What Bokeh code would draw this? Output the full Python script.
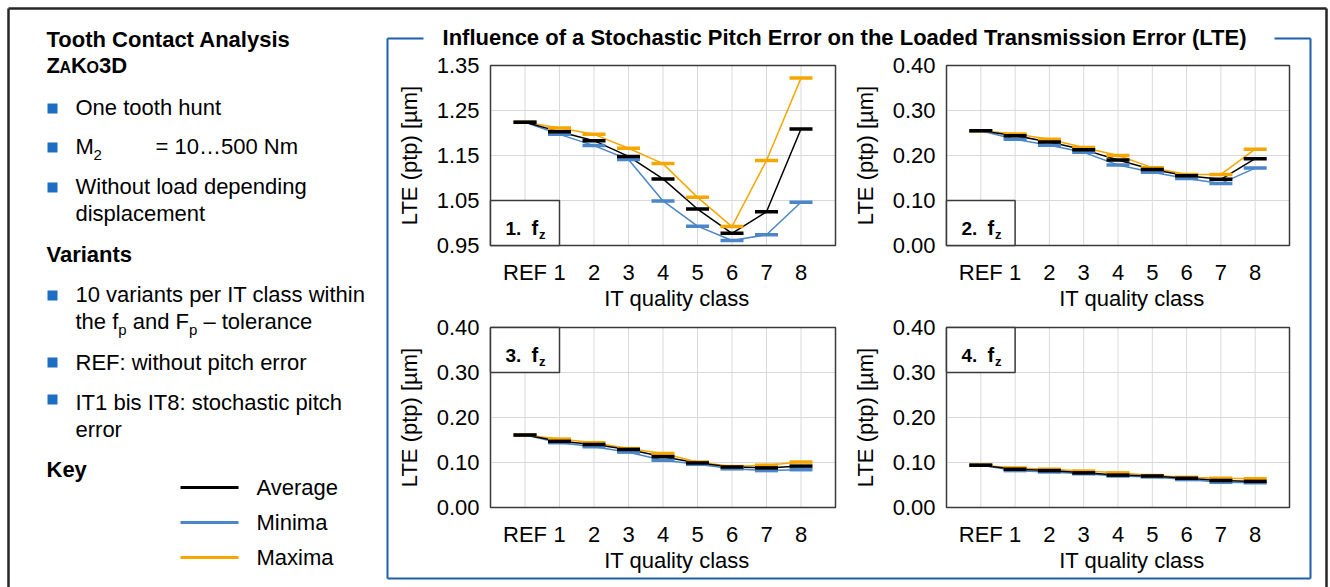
import numpy as np
from bokeh.plotting import figure
from bokeh.models import Range1d, LinearAxis, FixedTicker, NumeralTickFormatter
from bokeh.core.properties import value
from bokeh.embed import file_html
from bokeh.resources import INLINE

# ---------------- data ----------------
categories = ["REF", "1", "2", "3", "4", "5", "6", "7", "8"]
y_ticks_1 = [0.95, 1.05, 1.15, 1.25, 1.35]
y_ticks_small = [0.00, 0.10, 0.20, 0.30, 0.40]

avg_1 = [1.224, 1.203, 1.183, 1.148, 1.098, 1.031, 0.977, 1.025, 1.209]
min_1 = [1.224, 1.197, 1.172, 1.141, 1.049, 0.993, 0.961, 0.974, 1.046]
max_1 = [1.224, 1.211, 1.197, 1.166, 1.132, 1.057, 0.992, 1.139, 1.322]

avg_2 = [0.255, 0.244, 0.230, 0.213, 0.190, 0.169, 0.155, 0.147, 0.193]
min_2 = [0.255, 0.236, 0.223, 0.207, 0.179, 0.163, 0.149, 0.138, 0.172]
max_2 = [0.255, 0.248, 0.236, 0.218, 0.200, 0.173, 0.158, 0.158, 0.214]

avg_3 = [0.161, 0.147, 0.140, 0.129, 0.113, 0.099, 0.090, 0.088, 0.092]
min_3 = [0.161, 0.144, 0.135, 0.123, 0.105, 0.096, 0.086, 0.082, 0.084]
max_3 = [0.161, 0.152, 0.144, 0.131, 0.120, 0.101, 0.091, 0.094, 0.101]

avg_4 = [0.094, 0.085, 0.082, 0.077, 0.072, 0.070, 0.065, 0.060, 0.058]
min_4 = [0.094, 0.082, 0.079, 0.075, 0.070, 0.068, 0.062, 0.056, 0.055]
max_4 = [0.094, 0.088, 0.085, 0.081, 0.077, 0.071, 0.067, 0.065, 0.064]

series_names = ["Average", "Minima", "Maxima"]

# ---------------- styles ----------------
W, H = 1330, 587
FONT = "Liberation Sans"
C_AVG = "#000000"
C_MIN = "#4a86c8"
C_MAX = "#f5a700"
C_GRID = "#d9d9d9"
C_FRAME = "#3a3a3a"
C_BULLET = "#1b6ec2"
C_BLUE = "#1f5ea8"
C_OUTER = "#262626"

p = figure(width=W, height=H, x_range=Range1d(0, W), y_range=Range1d(H, 0),
           x_axis_type=None, y_axis_type=None, output_backend="svg",
           toolbar_location=None, min_border=0, outline_line_color=None)
p.background_fill_color = "white"
p.border_fill_color = "white"


def txt(x, y, s, size=22, bold=False, align="left", angle=0.0, color="#000000"):
    """y is the intended text baseline (screen pixels)."""
    p.text(x=[x], y=[y - 0.36 * size], text=[s], text_font=value(FONT),
           text_font_size=f"{size}px",
           text_font_style="bold" if bold else "normal",
           text_align=align, text_baseline="alphabetic", angle=angle,
           text_color=color)


# ---------------- outer frames ----------------
p.segment(x0=[8, 8, 1326], y0=[8, 8, 8], x1=[1326, 8, 1326], y1=[8, 600, 600],
          line_color=C_OUTER, line_width=2.5)
p.segment(x0=[387, 1274, 387, 387, 1310], y0=[38, 38, 38, 578, 38],
          x1=[423, 1310, 387, 1310, 1310], y1=[38, 38, 578, 578, 578],
          line_color=C_BLUE, line_width=2)
txt(844, 45, "Influence of a Stochastic Pitch Error on the Loaded Transmission Error (LTE)",
    size=22, bold=True, align="center")

# ---------------- left text block ----------------
txt(46, 47, "Tooth Contact Analysis", bold=True)
# small caps "ZaKo3D"
txt(46, 73, "Z", bold=True)
txt(59, 73, "A", size=16, bold=True)
txt(70.5, 73, "K", bold=True)
txt(86, 73, "O", size=16, bold=True)
txt(98.5, 73, "3D", bold=True)

bullet_y = [108, 147, 187, 295, 362, 399]
p.rect(x=[52] * len(bullet_y), y=bullet_y, width=10, height=10,
       fill_color=C_BULLET, line_color=None)

txt(75, 115, "One tooth hunt")
txt(75, 154, "M")
txt(93, 160, "2", size=15)
txt(155, 154, "= 10…500 Nm")
txt(75, 194, "Without load depending")
txt(75, 221, "displacement")
txt(46, 262, "Variants", bold=True)
txt(75, 302, "10 variants per IT class within")
txt(75, 329, "the f")
txt(117.8, 334, "p", size=15)
txt(132.2, 329, "and F")
txt(188.5, 334, "p", size=15)
txt(202.9, 329, "– tolerance")
txt(75, 370, "REF: without pitch error")
txt(75, 410, "IT1 bis IT8: stochastic pitch")
txt(75, 437, "error")
txt(46, 477, "Key", bold=True)

leg_y = [487, 522, 557]
p.segment(x0=[180] * 3, x1=[238] * 3, y0=leg_y, y1=leg_y,
          line_color=[C_AVG, C_MIN, C_MAX], line_width=3)
for yy, name in zip(leg_y, series_names):
    txt(256, yy + 8, name)

# ---------------- panels ----------------
panels = [
    ("1", (490, 835), (65, 245), (0.95, 1.35), y_ticks_1, avg_1, min_1, max_1, "bottom"),
    ("2", (946, 1289), (65, 245), (0.00, 0.40), y_ticks_small, avg_2, min_2, max_2, "bottom"),
    ("3", (490, 835), (327, 507), (0.00, 0.40), y_ticks_small, avg_3, min_3, max_3, "top"),
    ("4", (946, 1289), (327, 507), (0.00, 0.40), y_ticks_small, avg_4, min_4, max_4, "top"),
]

xpos = np.arange(len(categories))
xlo, xhi = -1, len(categories)

for num, (px0, px1), (py0, py1), (ylo, yhi), yt, av, mn, mx, boxpos in panels:
    kx = (xhi - xlo) / (px1 - px0)
    ky = (yhi - ylo) / (py1 - py0)
    xn, yn = f"x{num}", f"y{num}"
    p.extra_x_ranges[xn] = Range1d(xlo - px0 * kx, xhi + (W - px1) * kx)
    p.extra_y_ranges[yn] = Range1d(ylo - (H - py1) * ky, yhi + py0 * ky)
    kw = dict(x_range_name=xn, y_range_name=yn)

    # grid
    p.segment(x0=xpos, x1=xpos, y0=[ylo] * len(xpos), y1=[yhi] * len(xpos),
              line_color=C_GRID, line_width=1, **kw)
    inner = yt[1:-1]
    p.segment(x0=[xlo] * len(inner), x1=[xhi] * len(inner), y0=inner, y1=inner,
              line_color=C_GRID, line_width=1, **kw)
    # frame
    p.quad(left=[xlo], right=[xhi], bottom=[ylo], top=[yhi], fill_color=None,
           line_color=C_FRAME, line_width=1.5, **kw)

    # series
    for ser, col in ((mn, C_MIN), (mx, C_MAX), (av, C_AVG)):
        p.line(xpos, ser, line_color=col, line_width=1.5, **kw)
    for ser, col in ((mn, C_MIN), (mx, C_MAX), (av, C_AVG)):
        p.scatter(xpos, ser, marker="dash", size=23, line_color=col,
                  line_width=3.5, **kw)

    # label box
    step = yt[1] - yt[0]
    if boxpos == "bottom":
        bb, bt = ylo, ylo + step
        top_px = py1 - 45
    else:
        bb, bt = yhi - step, yhi
        top_px = py0
    p.quad(left=[xlo], right=[xlo + 2], bottom=[bb], top=[bt], fill_color="white",
           line_color=C_FRAME, line_width=1.5, **kw)
    base = top_px + 35
    txt(px0 + 15, base, f"{num}.", size=19, bold=True)
    txt(px0 + 41, base, "f", size=20, bold=True)
    txt(px0 + 48.5, base + 4, "z", size=13, bold=True)

    # axes
    yax = LinearAxis(fixed_location=xlo, bounds=(ylo, yhi),
                     ticker=FixedTicker(ticks=yt),
                     formatter=NumeralTickFormatter(format="0.00"), **kw)
    xax = LinearAxis(fixed_location=ylo, bounds=(xlo, xhi),
                     ticker=FixedTicker(ticks=list(xpos)),
                     major_label_overrides={int(i): c for i, c in zip(xpos, categories)},
                     **kw)
    for ax in (yax, xax):
        ax.axis_line_color = None
        ax.major_tick_line_color = None
        ax.minor_tick_line_color = None
        ax.major_label_text_font = FONT
        ax.major_label_text_font_size = "22px"
        ax.major_label_text_color = "#000000"
    yax.major_label_standoff = 5
    xax.major_label_standoff = 8
    p.add_layout(yax, "left")
    p.add_layout(xax, "below")

    # axis titles
    p.text(x=[px0 - 81], y=[(py0 + py1) / 2], text=["LTE (ptp) [µm]"],
           text_font=value(FONT), text_font_size="22px", text_align="center",
           text_baseline="middle", angle=np.pi / 2, text_color="#000000")
    txt((px0 + px1) / 2 + 14, py1 + 61, "IT quality class", align="center")

open("out.html", "w").write(file_html(p, INLINE))
